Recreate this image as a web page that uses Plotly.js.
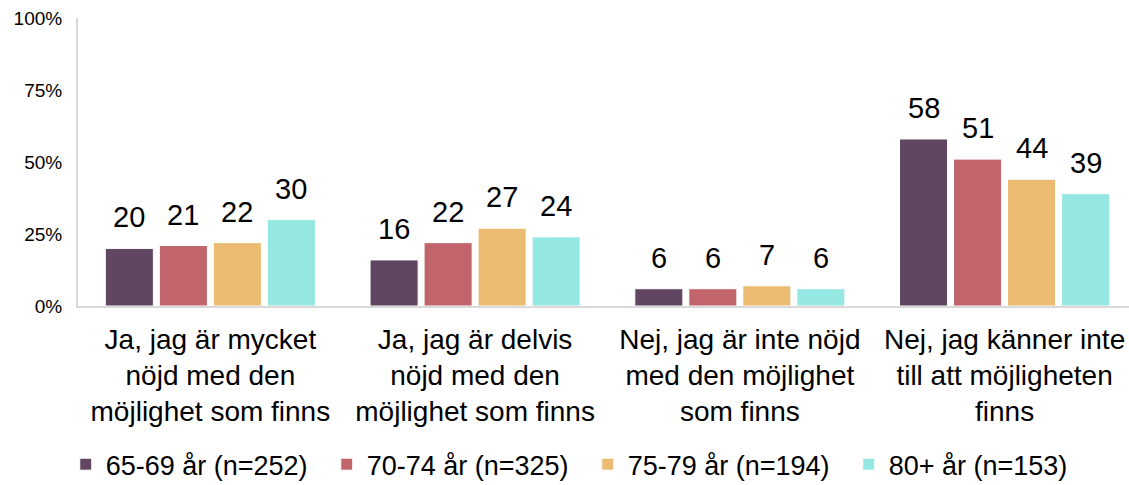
<!DOCTYPE html>
<html>
<head>
<meta charset="utf-8">
<script src="https://cdn.plot.ly/plotly-3.0.1.min.js"></script>
<style>html,body{margin:0;padding:0;background:#fff}#chart{width:1129px;height:485px}</style>
</head>
<body>
<div id="chart"></div>
<script>
const categories = [
  "Ja, jag är mycket<br>nöjd med den<br>möjlighet som finns",
  "Ja, jag är delvis<br>nöjd med den<br>möjlighet som finns",
  "Nej, jag är inte nöjd<br>med den möjlighet<br>som finns",
  "Nej, jag känner inte<br>till att möjligheten<br>finns"
];
const seriesNames = ["65-69 år (n=252)", "70-74 år (n=325)", "75-79 år (n=194)", "80+ år (n=153)"];
const values6569 = [20, 16, 6, 58];
const values7074 = [21, 22, 6, 51];
const values7579 = [22, 27, 7, 44];
const values80 = [30, 24, 6, 39];
const yTickVals = [0, 25, 50, 75, 100];
const yTickText = ["0%", "25%", "50%", "75%", "100%"];

const seriesValues = [values6569, values7074, values7579, values80];
const colors = ["#614662", "#c1646c", "#ebbb72", "#95e7e1"];

const traces = seriesValues.map((vals, j) => ({
  type: "bar",
  name: seriesNames[j],
  x: categories,
  y: vals,
  marker: {color: colors[j], line: {color: "#ffffff", width: 1}},
  hoverinfo: "skip"
}));

const slot = 54;
const annotations = [];
seriesValues.forEach((vals, j) => {
  vals.forEach((v, i) => {
    annotations.push({
      x: categories[i], y: v, xref: "x", yref: "y",
      text: String(v), showarrow: false,
      xanchor: "center", yanchor: "bottom",
      xshift: (j - 1.5) * slot, yshift: 13,
      font: {family: "Liberation Sans, Arial, sans-serif", size: 29, color: "#000"}
    });
  });
});

const layout = {
  width: 1129, height: 485,
  margin: {l: 78, r: 0, t: 18, b: 179, pad: 0},
  paper_bgcolor: "#fff", plot_bgcolor: "#fff",
  font: {family: "Liberation Sans, Arial, sans-serif", color: "#000"},
  barmode: "group",
  bargap: 0.184,
  bargroupgap: 0.11,
  showlegend: true,
  legend: {
    orientation: "h", x: 0.485, xanchor: "center",
    yref: "container", y: 0.042, yanchor: "middle",
    font: {size: 27, color: "#000"},
    itemwidth: 30,
    entrywidth: 216,
    entrywidthmode: "pixels",
    traceorder: "normal"
  },
  xaxis: {
    type: "category",
    range: [-0.5, 3.47],
    showline: true, linecolor: "#d9d9d9", linewidth: 2,
    showgrid: false, zeroline: false, ticks: "",
    tickfont: {size: 28, color: "#000"},
    ticklabelstandoff: 7,
    fixedrange: true
  },
  yaxis: {
    range: [0, 100],
    tickvals: yTickVals, ticktext: yTickText,
    showline: true, linecolor: "#d9d9d9", linewidth: 2,
    showgrid: false, zeroline: false, ticks: "",
    tickfont: {size: 19, color: "#000"},
    ticklabelstandoff: 10,
    fixedrange: true
  },
  annotations: annotations
};

Plotly.newPlot("chart", traces, layout, {displayModeBar: false, staticPlot: true});
</script>
</body>
</html>
